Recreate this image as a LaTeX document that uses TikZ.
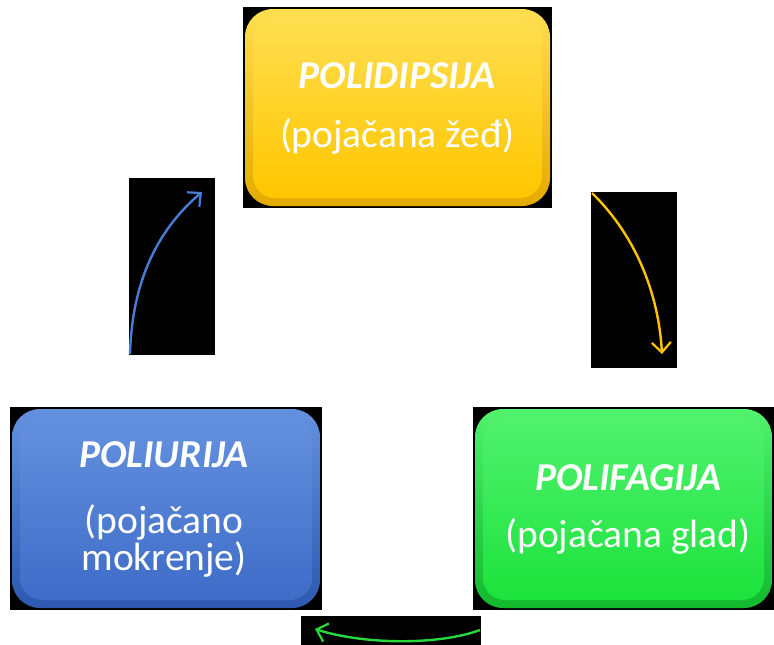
\documentclass[tikz,border=0pt]{standalone}
\usepackage{fontspec}
\setmainfont{Carlito}
\usetikzlibrary{arrows.meta}
\definecolor{yelA}{RGB}{255,222,80}
\definecolor{yelB}{RGB}{255,198,0}
\definecolor{yelR}{RGB}{228,170,0}
\definecolor{bluA}{RGB}{100,145,222}
\definecolor{bluB}{RGB}{62,108,200}
\definecolor{bluR}{RGB}{45,88,175}
\definecolor{grnA}{RGB}{80,242,110}
\definecolor{grnB}{RGB}{28,226,60}
\definecolor{grnR}{RGB}{18,185,45}
\definecolor{arrB}{RGB}{70,125,215}
\definecolor{arrY}{RGB}{255,195,0}
\definecolor{arrG}{RGB}{40,215,60}
\tikzset{
  backing/.style={fill=black, draw=none, inner sep=0pt, outer sep=0pt},
  ttl/.style={text=white, font=\fontsize{39.5}{46}\selectfont\bfseries\itshape, inner sep=0pt, anchor=base},
  sub/.style={text=white, font=\fontsize{39.5}{46}\selectfont, inner sep=0pt, anchor=base},
  cyc/.style={line width=2.4pt, -{Straight Barb[length=10pt,width=19pt,line width=2.2pt]}},
}
\begin{document}
\begin{tikzpicture}[x=1pt,y=-1pt]
\useasboundingbox (0,0) rectangle (774,645);
\fill[white] (0,0) rectangle (774,645);
% backing rectangles
\node[backing, minimum width=309pt, minimum height=201pt] (topbk) at (397.5,107.5) {};
\node[backing, minimum width=312pt, minimum height=203pt] (leftbk) at (166,508.5) {};
\node[backing, minimum width=301pt, minimum height=203pt] (rightbk) at (623.5,508.5) {};
\node[backing, minimum width=86pt, minimum height=177pt] (la) at (172,266.5) {};
\node[backing, minimum width=86pt, minimum height=176pt] (ra) at (634,280) {};
\node[backing, minimum width=180pt, minimum height=29pt] (ba) at (391,630.5) {};
% boxes
\shade[rounded corners=28pt, top color=yelA, bottom color=yelR] (245,9) rectangle (550,206);
\shade[rounded corners=22pt, top color=yelA, bottom color=yelB] (253,17) rectangle (542,198);
\shade[rounded corners=28pt, top color=bluA, bottom color=bluR] (12,409) rectangle (320,608);
\shade[rounded corners=22pt, top color=bluA, bottom color=bluB] (20,417) rectangle (312,600);
\shade[rounded corners=28pt, top color=grnA, bottom color=grnR] (475,409) rectangle (772,608);
\shade[rounded corners=22pt, top color=grnA, bottom color=grnB] (483,417) rectangle (764,600);
% texts
\node[ttl] (t1) at (397,88) {POLIDIPSIJA};
\node[sub] (s1) at (397,147) {(pojačana žeđ)};
\node[ttl] (t2) at (164,467) {POLIURIJA};
\node[sub] (s2) at (164,533) {(pojačano};
\node[sub] (s3) at (164,570) {mokrenje)};
\node[ttl] (t3) at (628,490) {POLIFAGIJA};
\node[sub] (s4) at (628,547) {(pojačana glad)};
% arrows
\coordinate (la1) at (130,354);
\coordinate (la2) at (202,192);
\coordinate (ra1) at (592,193);
\coordinate (ra2) at (662,354);
\coordinate (ba1) at (480,630);
\coordinate (ba2) at (315,629);
\draw[cyc, arrB] (la1) .. controls (132,285) and (155,232) .. (la2);
\draw[cyc, arrY] (ra1) .. controls (630,230) and (658,285) .. (ra2);
\draw[cyc, arrG] (ba1) .. controls (440,645) and (365,645) .. (ba2);
\end{tikzpicture}
\end{document}
